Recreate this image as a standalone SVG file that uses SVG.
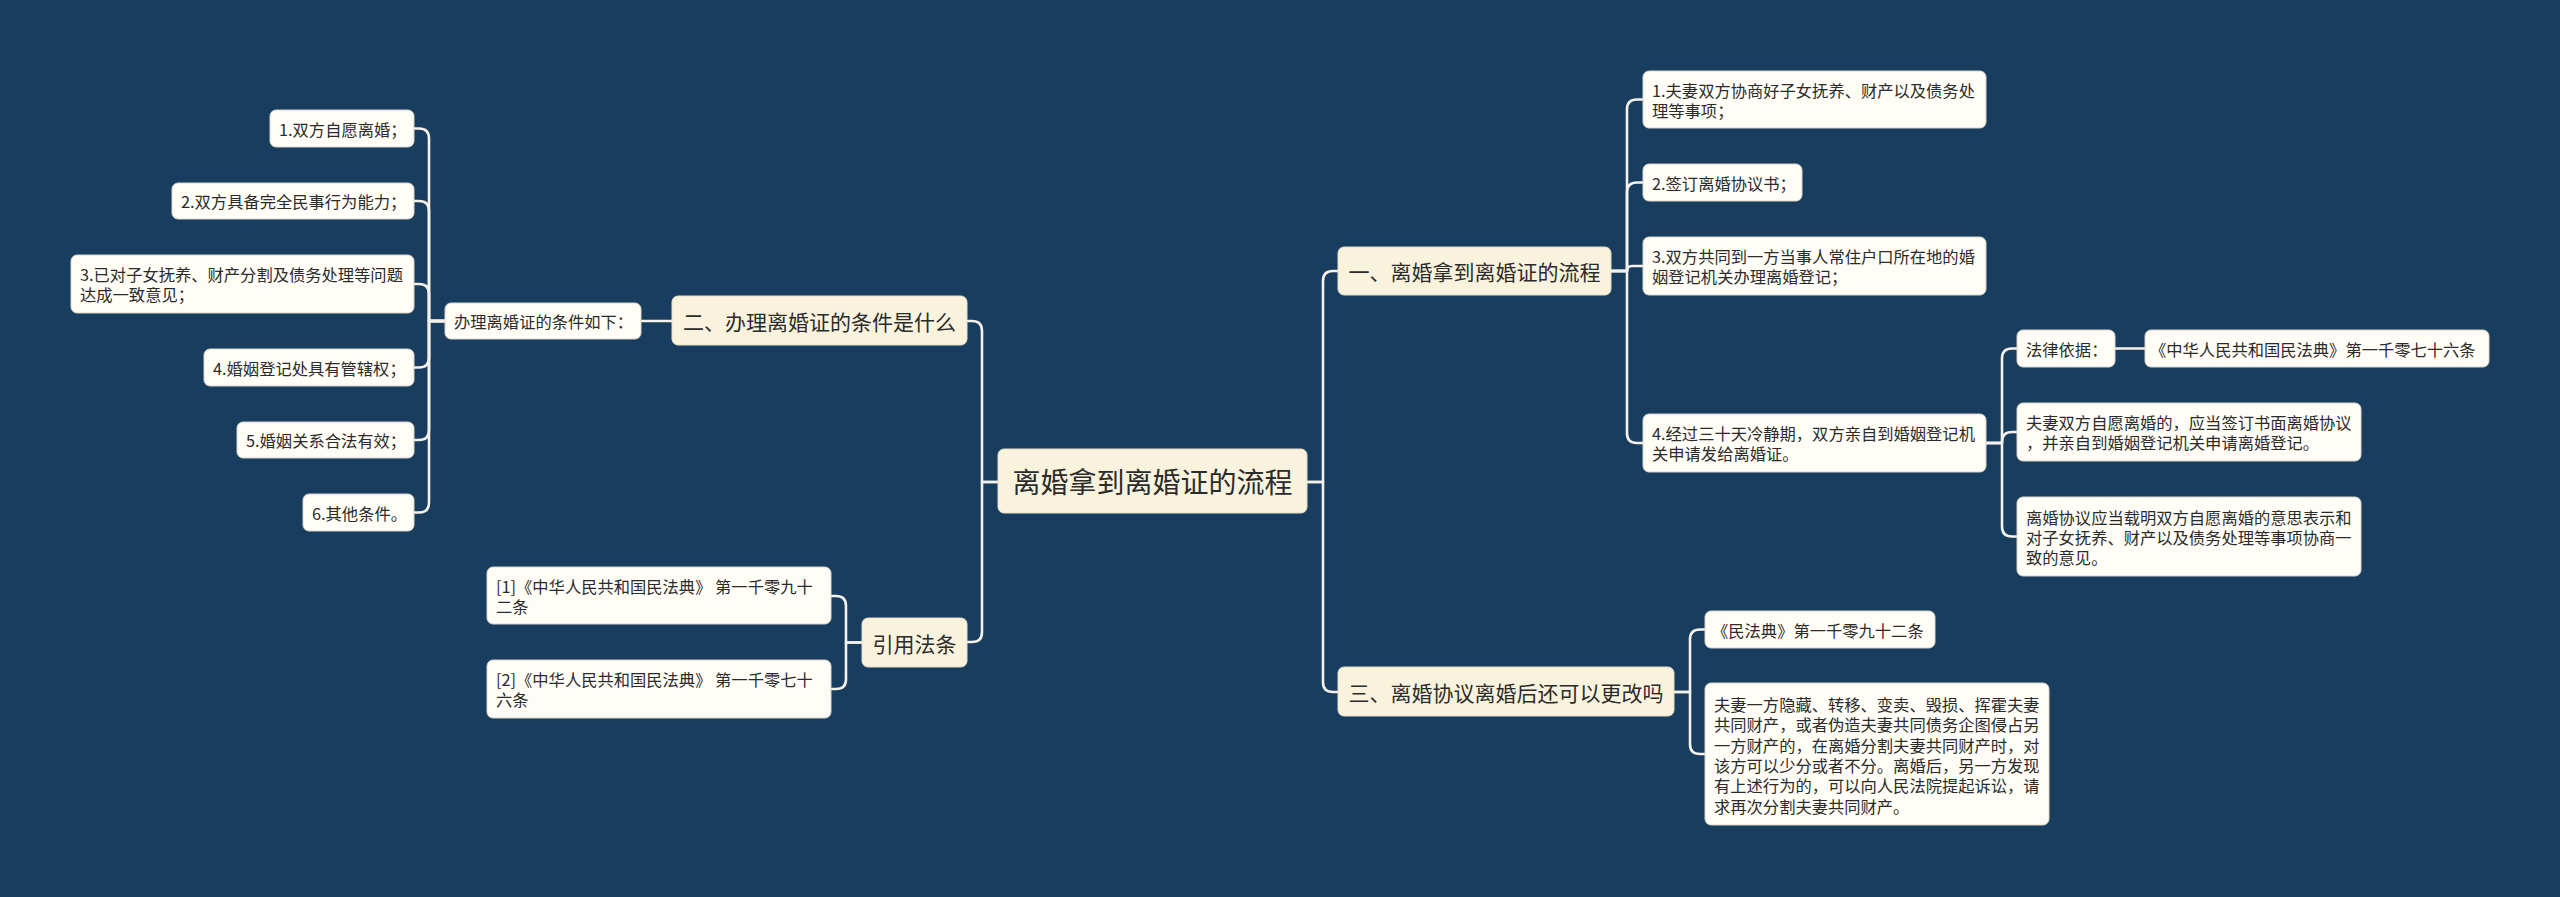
<svg xmlns="http://www.w3.org/2000/svg" width="2560" height="897" viewBox="0 0 2560 897">
<style>
text{font-family:"Noto Sans CJK SC","Noto Sans",sans-serif;fill:#2b2b2b;dominant-baseline:central}
.leaf rect{fill:#fffdf6;stroke:#d9d6cb;stroke-width:1}
.l1 rect{fill:#f9f3de;stroke:#e6dfc6;stroke-width:1}
.root rect{fill:#f9f3de;stroke:#e6dfc6;stroke-width:1}
.leaf text{font-size:16.3px}
.l1 text{font-size:21px;text-anchor:middle}
.root text{font-size:28px;text-anchor:middle}
#connectors path{fill:none;stroke:#f4f2ea;stroke-width:2.6;stroke-linecap:round;stroke-linejoin:round}
</style>
<rect x="0" y="0" width="2560" height="897" fill="#183d5e"/>
<g id="connectors">
<path d="M998,482 H982 V331 Q982,321 972,321 H967"/>
<path d="M998,482 H982 V632 Q982,642 972,642 H967"/>
<path d="M1307,482 H1323 V281 Q1323,271 1333,271 H1338"/>
<path d="M1307,482 H1323 V682 Q1323,692 1333,692 H1338"/>
<path d="M1611,271 H1627 V109.5 Q1627,99.5 1637,99.5 H1643"/>
<path d="M1611,271 H1627 V192.5 Q1627,182.5 1637,182.5 H1643"/>
<path d="M1611,271 H1627 Q1627,266 1632,266 H1643"/>
<path d="M1611,271 H1627 V433 Q1627,443 1637,443 H1643"/>
<path d="M1986,443 H2002 V358.5 Q2002,348.5 2012,348.5 H2017"/>
<path d="M1986,443 H2002 V442 Q2002,432 2012,432 H2017"/>
<path d="M1986,443 H2002 V526.5 Q2002,536.5 2012,536.5 H2017"/>
<path d="M2115,348.5 H2145"/>
<path d="M1674,692 H1690 V639.5 Q1690,629.5 1700,629.5 H1705"/>
<path d="M1674,692 H1690 V744 Q1690,754 1700,754 H1705"/>
<path d="M672,321 H641"/>
<path d="M445,321 H429 V138.5 Q429,128.5 419,128.5 H414"/>
<path d="M445,321 H429 V211 Q429,201 419,201 H414"/>
<path d="M445,321 H429 V294 Q429,284 419,284 H414"/>
<path d="M445,321 H429 V357.5 Q429,367.5 419,367.5 H414"/>
<path d="M445,321 H429 V430 Q429,440 419,440 H414"/>
<path d="M445,321 H429 V502.5 Q429,512.5 419,512.5 H414"/>
<path d="M862,642.5 H846 V606 Q846,596 836,596 H831"/>
<path d="M862,642.5 H846 V679 Q846,689 836,689 H831"/>
</g>
<g id="root" class="root"><rect x="998" y="449" width="309" height="64" rx="6"/><text x="1152.5" y="481">离婚拿到离婚证的流程</text></g>
<g id="n-one" class="l1"><rect x="1338" y="247" width="273" height="48" rx="6"/><text x="1474.5" y="271">一、离婚拿到离婚证的流程</text></g>
<g id="n-three" class="l1"><rect x="1338" y="667" width="336" height="49" rx="6"/><text x="1506" y="691.5">三、离婚协议离婚后还可以更改吗</text></g>
<g id="n-two" class="l1"><rect x="672" y="296" width="295" height="49" rx="6"/><text x="819.5" y="320.5">二、办理离婚证的条件是什么</text></g>
<g id="n-cite" class="l1"><rect x="862" y="618" width="105" height="49" rx="6"/><text x="914.5" y="642.5">引用法条</text></g>
<g id="n-cond" class="leaf"><rect x="445" y="303" width="196" height="36" rx="6"/><text x="454" y="321">办理离婚证的条件如下：</text></g>
<g id="c1" class="leaf"><rect x="270" y="110" width="144" height="37" rx="6"/><text x="279" y="128.5">1.双方自愿离婚；</text></g>
<g id="c2" class="leaf"><rect x="172" y="183" width="242" height="36" rx="6"/><text x="181" y="201">2.双方具备完全民事行为能力；</text></g>
<g id="c3" class="leaf"><rect x="71" y="255" width="343" height="58" rx="6"/><text x="80" y="274">3.已对子女抚养、财产分割及债务处理等问题</text><text x="80" y="294">达成一致意见；</text></g>
<g id="c4" class="leaf"><rect x="204" y="349" width="210" height="37" rx="6"/><text x="213" y="367.5">4.婚姻登记处具有管辖权；</text></g>
<g id="c5" class="leaf"><rect x="237" y="422" width="177" height="36" rx="6"/><text x="246" y="440">5.婚姻关系合法有效；</text></g>
<g id="c6" class="leaf"><rect x="303" y="494" width="111" height="37" rx="6"/><text x="312" y="512.5">6.其他条件。</text></g>
<g id="r1" class="leaf"><rect x="487" y="567" width="344" height="57" rx="6"/><text x="496" y="586">[1]《中华人民共和国民法典》 第一千零九十</text><text x="496" y="606">二条</text></g>
<g id="r2" class="leaf"><rect x="487" y="660" width="344" height="58" rx="6"/><text x="496" y="679">[2]《中华人民共和国民法典》 第一千零七十</text><text x="496" y="699">六条</text></g>
<g id="s1" class="leaf"><rect x="1643" y="71" width="343" height="57" rx="6"/><text x="1652" y="90">1.夫妻双方协商好子女抚养、财产以及债务处</text><text x="1652" y="110">理等事项；</text></g>
<g id="s2" class="leaf"><rect x="1643" y="164" width="159" height="37" rx="6"/><text x="1652" y="182.5">2.签订离婚协议书；</text></g>
<g id="s3" class="leaf"><rect x="1643" y="237" width="343" height="58" rx="6"/><text x="1652" y="256">3.双方共同到一方当事人常住户口所在地的婚</text><text x="1652" y="276">姻登记机关办理离婚登记；</text></g>
<g id="s4" class="leaf"><rect x="1643" y="414" width="343" height="58" rx="6"/><text x="1652" y="433">4.经过三十天冷静期，双方亲自到婚姻登记机</text><text x="1652" y="453">关申请发给离婚证。</text></g>
<g id="law" class="leaf"><rect x="2017" y="330" width="98" height="37" rx="6"/><text x="2026" y="348.5">法律依据：</text></g>
<g id="law-ref" class="leaf"><rect x="2145" y="330" width="344" height="37" rx="6"/><text x="2150" y="348.5">《中华人民共和国民法典》第一千零七十六条</text></g>
<g id="agree" class="leaf"><rect x="2017" y="403" width="344" height="58" rx="6"/><text x="2026" y="422">夫妻双方自愿离婚的，应当签订书面离婚协议</text><text x="2026" y="442">，并亲自到婚姻登记机关申请离婚登记。</text></g>
<g id="content" class="leaf"><rect x="2017" y="497" width="344" height="79" rx="6"/><text x="2026" y="516.5">离婚协议应当载明双方自愿离婚的意思表示和</text><text x="2026" y="536.5">对子女抚养、财产以及债务处理等事项协商一</text><text x="2026" y="556.5">致的意见。</text></g>
<g id="civil" class="leaf"><rect x="1705" y="611" width="230" height="37" rx="6"/><text x="1712" y="629.5">《民法典》第一千零九十二条</text></g>
<g id="hide" class="leaf"><rect x="1705" y="683" width="344" height="142" rx="6"/><text x="1714" y="704">夫妻一方隐藏、转移、变卖、毁损、挥霍夫妻</text><text x="1714" y="724.3">共同财产，或者伪造夫妻共同债务企图侵占另</text><text x="1714" y="744.6">一方财产的，在离婚分割夫妻共同财产时，对</text><text x="1714" y="764.9">该方可以少分或者不分。离婚后，另一方发现</text><text x="1714" y="785.2">有上述行为的，可以向人民法院提起诉讼，请</text><text x="1714" y="805.5">求再次分割夫妻共同财产。</text></g>
</svg>
